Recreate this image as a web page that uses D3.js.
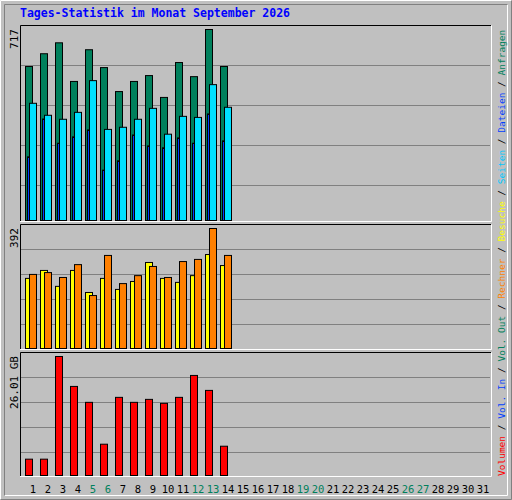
<!DOCTYPE html>
<html><head><meta charset="utf-8">
<script src="https://cdn.jsdelivr.net/npm/d3@7"></script>
<style>body{margin:0;background:#fff}</style>
</head><body><div id="chart"></div>
<script>
// daily values, September 2026 (days 1..14 have data)
let days = d3.range(1, 32);
let weekend = [5, 6, 12, 13, 19, 20, 26, 27];
let hits   = [578, 626, 667, 522, 641, 574, 484, 522, 544, 462, 593, 540, 717, 578];
let files  = [440, 395, 380, 406, 525, 342, 350, 380, 421, 324, 391, 387, 510, 425];
let pages  = [239, 381, 290, 314, 340, 189, 224, 321, 280, 273, 310, 290, 400, 299];
let visits = [229, 255, 203, 255, 183, 229, 193, 219, 281, 229, 216, 238, 307, 271];
let sites  = [242, 248, 232, 274, 173, 304, 212, 238, 268, 232, 284, 291, 392, 304];
let volume = [3.57, 3.57, 26.01, 19.47, 15.99, 6.84, 17.08, 15.99, 16.64, 15.77, 17.08, 21.87, 18.60, 6.40];
let maxLabels = ["717", "392", "26.01 GB"];
let legendParts = [["Volumen", "#ff0000"], ["Vol. In", "#0040ff"], ["Vol. Out", "#00805c"], ["Rechner", "#ff8000"],
                   ["Besuche", "#ffff00"], ["Seiten", "#00c8ff"], ["Dateien", "#0040ff"], ["Anfragen", "#00805c"]];

let W = 512, H = 500;
let svg = d3.select("#chart").append("svg").attr("width", W).attr("height", H)
            .style("font-family", "'DejaVu Sans Mono', monospace");

svg.append("rect").attr("width", W).attr("height", H).attr("fill", "#c0c0c0");
svg.append("path").attr("d", "M0.5," + (H - 0.5) + "V0.5H" + (W - 0.5)).attr("fill", "none").attr("stroke", "#fff");
svg.append("path").attr("d", "M" + (W - 0.5) + ",0.5V" + (H - 0.5) + "H0.5").attr("fill", "none").attr("stroke", "#808080");
svg.append("path").attr("d", "M4.5," + (H - 4.5) + "H" + (W - 4.5) + "V4.5").attr("fill", "none").attr("stroke", "#fff");
svg.append("path").attr("d", "M4.5," + (H - 4.5) + "V4.5H" + (W - 4.5)).attr("fill", "none").attr("stroke", "#808080");

svg.append("text").attr("x", 20).attr("y", 17).attr("fill", "#0000ff")
   .style("font-size", "11.5px").style("font-weight", "bold")
   .text("Tages-Statistik im Monat September 2026");

let x = d3.scaleBand().domain(days).range([25, 25 + 15 * 31]).paddingInner(0).paddingOuter(0);

let panels = [
  {top: 25, bottom: 221, max: 717, grid: [65, 105, 145, 185]},
  {top: 224, bottom: 349, max: 392, grid: [249, 274, 299, 324]},
  {top: 352, bottom: 476, max: 26.01, grid: [377, 402, 427, 452]}
];

panels.forEach((p, i) => {
  let g = svg.append("g");
  g.append("rect").attr("x", 20).attr("y", p.top).attr("width", 471).attr("height", p.bottom - p.top).attr("fill", "#c0c0c0");
  g.selectAll("line.grid").data(p.grid).enter().append("line")
   .attr("x1", 21).attr("x2", 490).attr("y1", d => d + 0.5).attr("y2", d => d + 0.5)
   .attr("stroke", "#808080");
  g.append("path").attr("d", "M20.5," + (p.bottom + 0.5) + "V" + (p.top + 0.5) + "H491").attr("fill", "none").attr("stroke", "#000");
  g.append("path").attr("d", "M491.5," + (p.top + 0.5) + "V" + (p.bottom + 0.5) + "H20").attr("fill", "none").attr("stroke", "#fff");
  g.append("text").attr("transform", "translate(18," + (p.top + 4) + ") rotate(-90)")
   .attr("text-anchor", "end").style("font-size", "11px").attr("fill", "#000").text(maxLabels[i]);
  p.y = d3.scaleLinear().domain([0, p.max]).range([p.bottom - 1, p.top + 4]);
});

function bars(panel, vals, off, w, color) {
  let y = panel.y;
  svg.append("g").selectAll("rect").data(vals).enter().append("rect")
     .attr("x", (d, i) => x(i + 1) + off + 0.5)
     .attr("y", d => y(d) + 0.5)
     .attr("width", w)
     .attr("height", d => y(0) - y(d))
     .attr("fill", color).attr("stroke", "#000");
}

bars(panels[0], hits, 0, 7, "#00805c");
bars(panels[0], pages, 2, 2, "#0040ff");
bars(panels[0], files, 4, 7, "#00e0ff");
bars(panels[1], visits, 0, 7, "#ffff00");
bars(panels[1], sites, 4, 7, "#ff8000");
bars(panels[2], volume, 0, 7, "#ff0000");

svg.append("g").selectAll("text").data(days).enter().append("text")
   .attr("x", d => x(d) + 8).attr("y", 493).attr("text-anchor", "middle")
   .style("font-size", "10.5px")
   .attr("fill", d => weekend.includes(d) ? "#00805c" : "#000")
   .text(d => d);

let leg = svg.append("text").attr("transform", "translate(505,476) rotate(-90)")
   .style("font-size", "9.5px");
legendParts.forEach((p, i) => {
  if (i > 0) leg.append("tspan").attr("fill", "#000").text(" / ");
  leg.append("tspan").attr("fill", p[1]).text(p[0]);
});
</script></body></html>
